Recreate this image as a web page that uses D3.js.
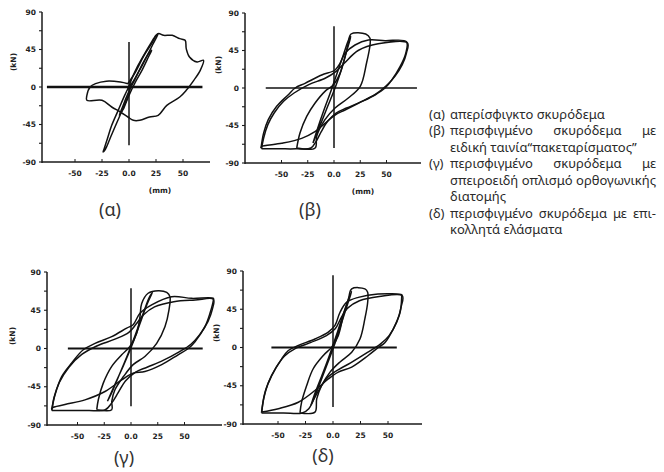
<!DOCTYPE html>
<html>
<head>
<meta charset="utf-8">
<script src="https://cdn.jsdelivr.net/npm/d3@7"></script>
<style>
  body { margin: 0; background: #fff; }
  svg { display: block; }
  .axis-line { stroke: #1a1a1a; stroke-width: 1.5; fill: none; }
  .ref-line { stroke: #111; fill: none; }
  .loop { fill: none; stroke: #111; stroke-width: 1.5; stroke-linejoin: round; }
  .tick-label { font-family: "DejaVu Sans"; font-weight: bold; font-size: 7.5px; fill: #222; }
  .caption { font-family: "Noto Sans"; font-size: 18px; fill: #333; }
  .legend text { font-family: "Noto Sans"; font-size: 13px; fill: #2a2a2a; }
</style>
</head>
<body>
<div id="chart"></div>
<script>
// ticks and labels
const yTicks = [-90, -67.5, -45, -22.5, 0, 22.5, 45, 67.5, 90];
const yLabels = [-90, -45, 0, 45, 90];
const xLabels = [-50, -25, 0, 25, 50];
const captions = ["(α)", "(β)", "(γ)", "(δ)"];

// zero lines: [mm from, mm to] and vertical line at 0 mm: [kN from, kN to]
const zeroLines = [[-76, 68], [-65, 79], [-59, 67], [-56, 58]];
const vertLines = [[-70, 54], [-72, 74], [-68, 71], [-70, 85]];

// hysteresis loops, [mm, kN]
const loopsA = [
  [[-1,4],[6,18],[14,38],[21,52],[27,64],[32,62],[40,62],[47,58],[52,56],[53,46],[56,36],[63,30],[69,32],[66,20],[60,8],[53,-4],[47,-12],[35,-22],[27,-34],[19,-36],[10,-40],[4,-40],[-1,-36],[-8,-30],[-16,-24],[-25,-16],[-39,-16],[-39,-10],[-36,0],[-31,4],[-21,7],[-8,6],[-1,4]],
  [[-1,-3],[5,9],[11,23],[17,38],[22,51],[26,61],[27,64],[25,62],[20,52],[14,39],[8,25],[3,11],[-1,-3]],
  [[1,3],[-4,-10],[-10,-28],[-16,-46],[-20,-62],[-23,-74],[-24,-78],[-22,-75],[-17,-60],[-11,-42],[-5,-24],[0,-8],[1,3]],
  [[-5,-26],[0,-10],[6,6],[12,20],[18,36],[21,44],[18,40],[11,24],[5,8],[-1,-8],[-6,-24],[-9,-34],[-5,-26]]
];
const loopsB = [
  [[-69.5,-72],[-67,-54],[-62.6,-38],[-54.6,-22],[-43.5,-8],[-37,0],[-27.6,5.6],[-11.7,15.6],[1,21.6],[5.7,29.6],[10.5,41.6],[20,51.6],[32.7,57.6],[48.6,56.8],[69,55.6],[68.3,41.6],[62.9,25.6],[55,9.6],[48.6,0],[39,-8.4],[23.1,-18.4],[10.5,-26.4],[1,-32.4],[-8.6,-42.4],[-18.1,-52.4],[-30.8,-60.4],[-49.8,-66.4],[-69.5,-70.4],[-69.5,-72]],
  [[-69,-73],[-67,-60],[-63,-44],[-57,-30],[-48,-16],[-38,-6],[-24,4],[-8,12],[2,20],[10,30],[23,45],[42,53],[70,54],[69,42],[65,28],[58,14],[50,3],[40,-7],[25,-17],[12,-24],[2,-30],[-6,-40],[-12,-52],[-17,-64],[-22,-72],[-36,-73],[-52,-73],[-69,-73]],
  [[-35.5,-72],[-32.4,-54],[-26,-34],[-18,-18],[-8.6,-4],[-0.7,3.6],[5.7,17.6],[10.5,37.6],[13.6,53.6],[16.2,64.8],[30.2,64.8],[34.3,59.6],[34.3,51.6],[31,30],[25,2],[13.6,-12],[1,-24],[-8.6,-38],[-16.5,-58],[-18,-72],[-35.5,-72]],
  [[-20,-66],[-13,-44],[-6,-22],[1,0],[7,22],[12,44],[16,62],[14,58],[9,40],[3,18],[-3,-4],[-10,-28],[-16,-50],[-20,-66]]
];
const loopsG = [
  [[-74,-72],[-71,-54.5],[-64.8,-33],[-55.4,-17],[-44.6,-1.5],[-33.6,6],[-18,14],[-4,24],[2,28],[8.4,41.5],[19.3,51.4],[38,61],[56.7,59],[77,59],[77,57],[73.8,41.5],[69.2,26],[59.8,8],[53.6,0],[44,-7.4],[28.7,-19],[13,-27],[2,-29],[-8.7,-37],[-24.3,-50.6],[-43,-60.4],[-61.7,-66],[-74,-70],[-74,-72]],
  [[-74,-73],[-72,-58],[-67,-40],[-58,-22],[-46,-7],[-32,3],[-15,11],[-2,19],[5,29],[12,40],[22,49],[40,55],[60,57],[77,58],[76,46],[72,32],[64,16],[56,5],[45,-4],[30,-14],[15,-22],[4,-28],[-5,-38],[-12,-52],[-18,-64],[-24,-72],[-40,-73],[-58,-73],[-74,-73]],
  [[-32,-72],[-30.5,-60],[-26,-41],[-18,-21],[-8.7,-7.4],[-1,2.4],[5.3,18],[8.4,37.6],[10,53],[16,65],[25.5,68],[33.4,66],[36.4,61],[35.5,45.5],[31.8,26],[24,6],[13,-9.4],[2,-19],[-7,-33],[-15,-48.6],[-18,-62.4],[-18,-72],[-32,-72]],
  [[-22,-62],[-15,-42],[-7,-20],[1,4],[8,28],[15,52],[20,66],[17,60],[11,40],[4,16],[-4,-10],[-12,-34],[-18,-52],[-22,-62]]
];
const loopsD = [
  [[-64.8,-76],[-61.8,-52.6],[-55.7,-33],[-46.6,-13.3],[-40.6,-3.5],[-31.5,2.4],[-16.4,10],[-4.3,18],[1.8,26],[6.4,41.5],[12.5,53.3],[23,59],[41,63],[62.5,62],[62.5,61],[61,41.5],[54.8,22],[47.3,6],[41.2,0],[32,-9.4],[17,-23],[4.8,-29],[-4.3,-37],[-16.4,-50.6],[-31.5,-64.4],[-49.7,-72],[-64.8,-76]],
  [[-65,-77],[-63,-60],[-59,-42],[-52,-24],[-44,-10],[-34,-1],[-20,6],[-6,14],[2,22],[7,34],[13,46],[24,55],[42,60],[63,61],[62,48],[58,30],[51,14],[43,4],[31,-6],[16,-18],[5,-26],[-4,-34],[-11,-46],[-17,-60],[-22,-72],[-28,-77],[-45,-77],[-65,-77]],
  [[-30,-77],[-28.5,-64],[-24,-45],[-18,-25],[-8.8,-9.4],[-1.2,0.4],[4.8,14],[9.4,37.6],[14,57],[17,69],[29,69],[31.5,65],[31.5,53],[29,34],[24.5,10],[17,-5.5],[6.4,-17],[-2.7,-29],[-10.3,-44.7],[-14.8,-60.4],[-16.4,-76],[-30,-77]],
  [[-20,-68],[-13,-46],[-6,-22],[1,2],[7,26],[13,50],[17,66],[15,60],[9,38],[3,14],[-4,-12],[-11,-36],[-17,-56],[-20,-68]]
];
const panelLoops = [loopsA, loopsB, loopsG, loopsD];

const legendItems = [
  ["(α)", "απερίσφιγκτο σκυρόδεμα"],
  ["(β)", "περισφιγμένο σκυρόδεμα με", "ειδική ταινία\u201Cπακεταρίσματος\u201D"],
  ["(γ)", "περισφιγμένο σκυρόδεμα με", "σπειροειδή οπλισμό ορθογωνικής", "διατομής"],
  ["(δ)", "περισφιγμένο σκυρόδεμα με επι-", "κολλητά ελάσματα"]
];

// layout of the four panels (pixels)
const panels = [
  { ax: 42, top: 12, bot: 162, right: 210, ox: 129, kx: 1.08, cap: [110, 216], mm: [160, 193], kn: [14, 62], zw: 2.4 },
  { ax: 245, top: 13, bot: 163, right: 421, ox: 334, kx: 1.05, cap: [310, 216], mm: [363, 194], kn: [219, 65], zw: 1.3 },
  { ax: 47, top: 272, bot: 425, right: 222, ox: 131, kx: 1.07, cap: [124, 464], kn: [13, 336], zw: 2.2 },
  { ax: 243, top: 271, bot: 424, right: 422, ox: 333, kx: 1.1, cap: [323, 462], kn: [217, 333], zw: 2.2 }
];

const width = 664;
const height = 472;

const svg = d3
  .select("#chart")
  .append("svg")
  .attr("width", width)
  .attr("height", height);

panels.forEach((p, i) => {
  const x = d3.scaleLinear().domain([0, 50]).range([p.ox, p.ox + 50 * p.kx]);
  const y = d3.scaleLinear().domain([-90, 90]).range([p.bot, p.top]);
  const g = svg.append("g");

  // y axis
  g.append("line").attr("class", "axis-line")
    .attr("x1", p.ax).attr("x2", p.ax).attr("y1", p.top).attr("y2", p.bot + 1);
  g.selectAll(".ytick").data(yTicks).join("line")
    .attr("class", "axis-line").style("stroke-width", 1.1)
    .attr("x1", p.ax - 3).attr("x2", p.ax)
    .attr("y1", (d) => y(d)).attr("y2", (d) => y(d));
  g.selectAll(".ylab").data(yLabels).join("text")
    .attr("class", "tick-label")
    .attr("x", p.ax - 6).attr("y", (d) => y(d) + 2.5)
    .attr("text-anchor", "end")
    .text((d) => d);

  // x axis
  g.append("line").attr("class", "axis-line")
    .attr("x1", p.ax).attr("x2", p.right).attr("y1", p.bot).attr("y2", p.bot);
  g.selectAll(".xtick").data(xLabels).join("line")
    .attr("class", "axis-line").style("stroke-width", 1)
    .attr("x1", (d) => x(d)).attr("x2", (d) => x(d))
    .attr("y1", p.bot - 3).attr("y2", p.bot);
  g.selectAll(".xlab").data(xLabels).join("text")
    .attr("class", "tick-label")
    .attr("x", (d) => x(d)).attr("y", p.bot + 14)
    .attr("text-anchor", "middle")
    .text((d) => (d === 0 ? "0.0" : d));

  // (kN) / (mm)
  g.append("text").attr("class", "tick-label")
    .attr("transform", `translate(${p.kn[0] + 2},${p.kn[1]}) rotate(-90)`)
    .attr("text-anchor", "middle")
    .text("(kN)");
  if (p.mm) {
    g.append("text").attr("class", "tick-label")
      .attr("x", p.mm[0]).attr("y", p.mm[1])
      .attr("text-anchor", "middle")
      .text("(mm)");
  }

  // reference lines through the origin
  g.append("line").attr("class", "ref-line").style("stroke-width", p.zw)
    .attr("x1", x(zeroLines[i][0])).attr("x2", x(zeroLines[i][1]))
    .attr("y1", y(0)).attr("y2", y(0));
  g.append("line").attr("class", "ref-line").style("stroke-width", 1.5)
    .attr("x1", x(0)).attr("x2", x(0))
    .attr("y1", y(vertLines[i][0])).attr("y2", y(vertLines[i][1]));

  // loops
  const line = d3.line()
    .x((d) => x(d[0]))
    .y((d) => y(d[1]))
    .curve(d3.curveCatmullRom.alpha(0.5));
  g.selectAll(".loop").data(panelLoops[i]).join("path")
    .attr("class", "loop")
    .attr("d", line);

  g.append("text").attr("class", "caption")
    .attr("x", p.cap[0]).attr("y", p.cap[1])
    .attr("text-anchor", "middle")
    .text(captions[i]);
});

// legend, justified like the original
const legend = svg.append("g").attr("class", "legend");
const lx0 = 429, lxBody = 450, lx1 = 656;
const lineStep = 16.5;
const itemTops = [0, 1, 3, 6].map((k) => 118.5 + k * lineStep);

function justifyLine(text, xa, xb, yy, justify) {
  const words = text.split(" ");
  if (!justify || words.length < 2) {
    legend.append("text").attr("x", xa).attr("y", yy).text(text);
    return;
  }
  const nodes = words.map((w) => legend.append("text").attr("y", yy).text(w));
  const widths = nodes.map((n) => n.node().getComputedTextLength());
  const gap = (xb - xa - d3.sum(widths)) / (words.length - 1);
  let xx = xa;
  nodes.forEach((n, k) => {
    n.attr("x", xx);
    xx += widths[k] + gap;
  });
}

legendItems.forEach((item, i) => {
  const yy = itemTops[i];
  legend.append("text").attr("x", lx0).attr("y", yy).text(item[0]);
  const lines = item.slice(1);
  lines.forEach((t, k) => {
    justifyLine(t, lxBody, lx1, yy + k * lineStep, k < lines.length - 1);
  });
});
</script>
</body>
</html>
